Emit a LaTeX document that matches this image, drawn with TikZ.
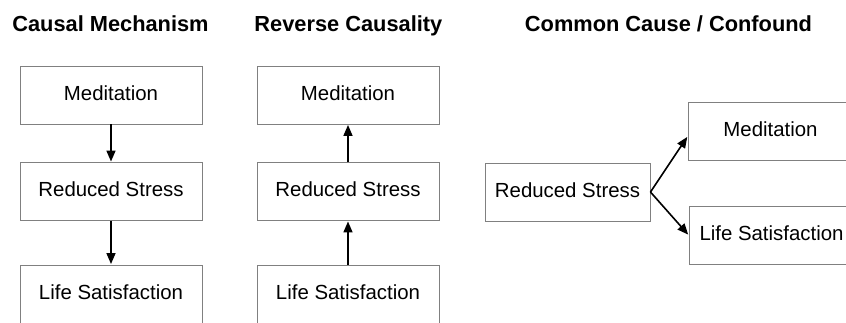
\documentclass[tikz,border=0pt]{standalone}
\usepackage{fontspec}
\setmainfont{Liberation Sans}
\usetikzlibrary{arrows.meta}
\begin{document}
\begin{tikzpicture}[x=1pt,y=1pt,
  title/.style={font=\fontsize{21.8}{24}\selectfont\bfseries, anchor=base, inner sep=0},
  boxA/.style={draw=black!50, line width=0.9pt, minimum width=182pt, minimum height=58pt, inner sep=0,
     font=\fontsize{20.4}{24}\selectfont, text height=1.0em, text depth=0pt},
  boxB/.style={boxA, minimum width=165pt},
  arr/.style={line width=1.6pt, -{Triangle[length=11pt,width=9pt]}, shorten >=0.5pt}
]
\useasboundingbox (0,0) rectangle (846,322);
\path[clip] (0,0) rectangle (846,322);
% titles
\node[title] (t1) at (110.5,290) {Causal Mechanism};
\node[title] (t2) at (348.4,290) {Reverse Causality};
\node[title] (t3) at (668.5,290) {Common Cause / Confound};
% left column
\node[boxA] (a1) at (111,227) {Meditation};
\node[boxA] (a2) at (111,130.5) {Reduced Stress};
\node[boxA] (a3) at (111,28) {Life Satisfaction};
\draw[arr] (a1.south) -- (a2.north);
\draw[arr] (a2.south) -- (a3.north);
% middle column
\node[boxA] (b1) at (348,227) {Meditation};
\node[boxA] (b2) at (348,130.5) {Reduced Stress};
\node[boxA] (b3) at (348,28) {Life Satisfaction};
\draw[arr] (b2.north) -- (b1.south);
\draw[arr] (b3.north) -- (b2.south);
% right column
\node[boxB] (c1) at (567.5,130) {Reduced Stress};
\node[boxB] (c2) at (770.5,190.5) {Meditation};
\node[boxB] (c3) at (771.5,87) {Life Satisfaction};
\draw[arr] (c1.east) -- ([yshift=-5pt]c2.west);
\draw[arr] (c1.east) -- (c3.west);
\end{tikzpicture}
\end{document}
